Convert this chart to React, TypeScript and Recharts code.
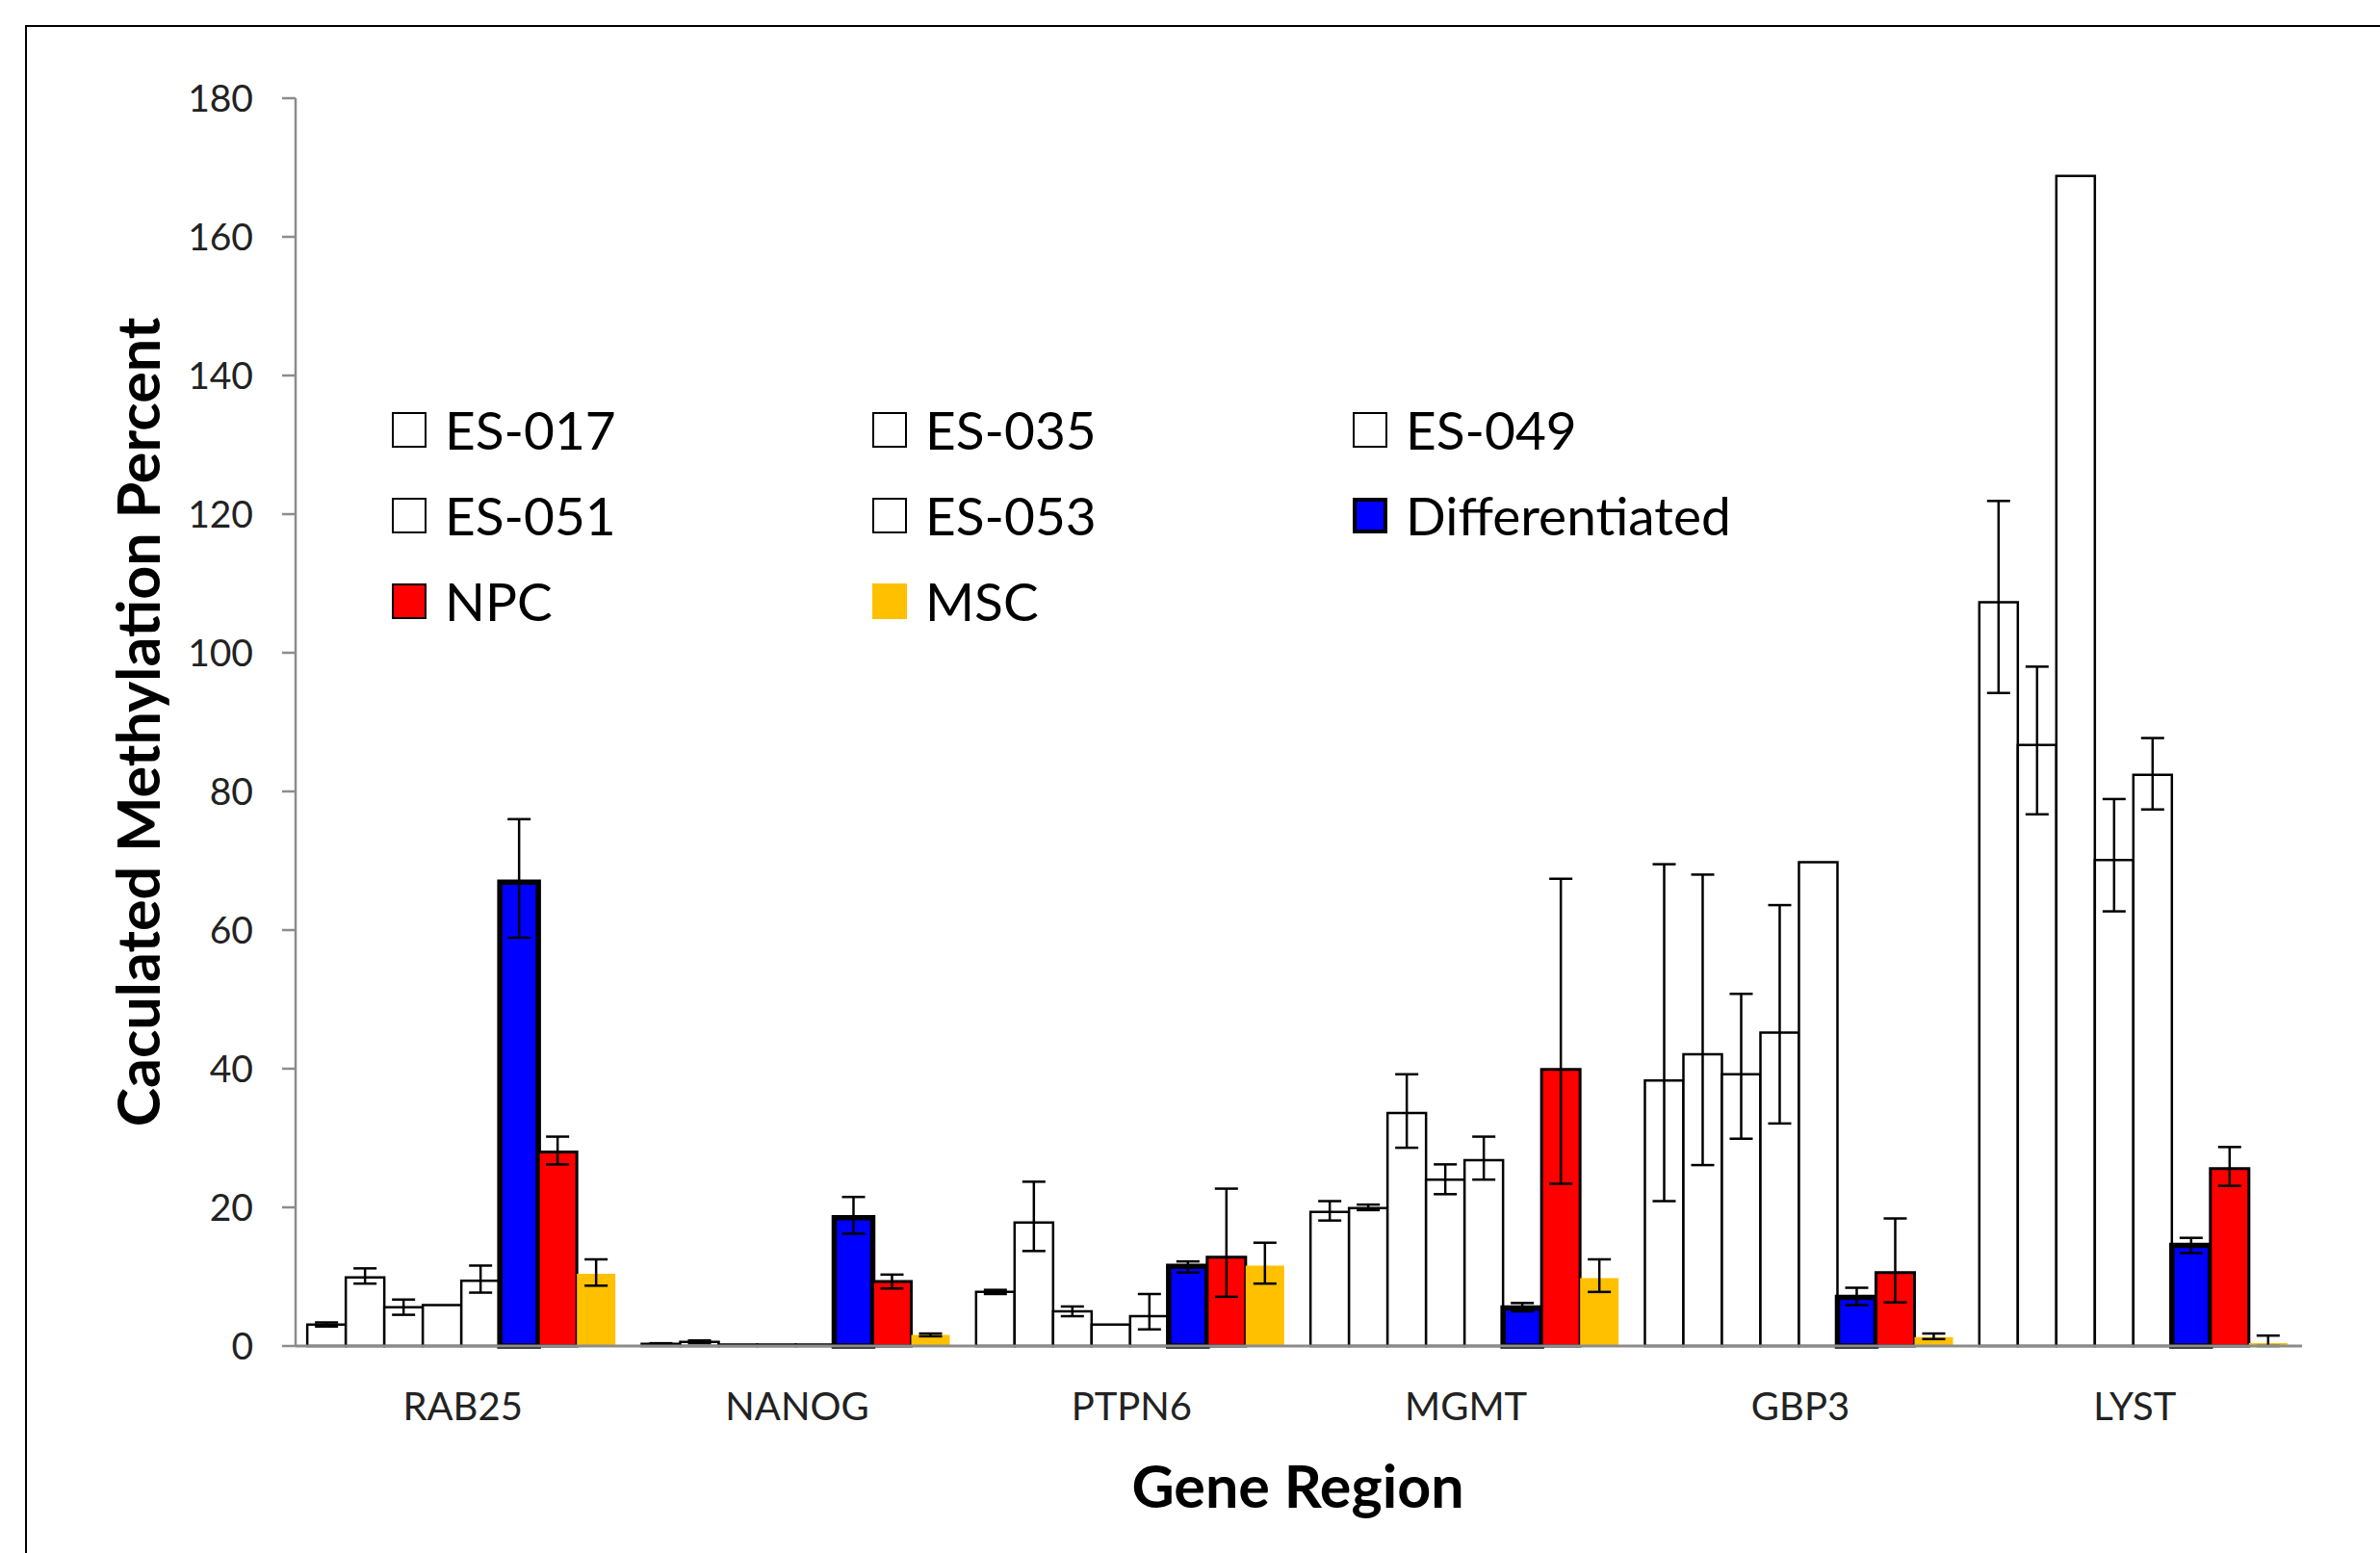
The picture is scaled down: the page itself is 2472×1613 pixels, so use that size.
import React from 'react';
import { BarChart, Bar, XAxis, YAxis, ErrorBar, Legend } from 'recharts';

const genes = ['RAB25', 'NANOG', 'PTPN6', 'MGMT', 'GBP3', 'LYST'];
const yTicks = [0, 20, 40, 60, 80, 100, 120, 140, 160, 180];

// bar heights per gene
const es017 = [3.1, 0.3, 7.8, 19.35, 38.3, 107.3];
const es035 = [9.9, 0.6, 17.8, 19.9, 42.1, 86.7];
const es049 = [5.6, 0.2, 5.0, 33.6, 39.2, 168.8];
const es051 = [5.9, 0.2, 3.1, 24.0, 45.2, 70.1];
const es053 = [9.4, 0.2, 4.3, 26.8, 69.8, 82.4];
const differentiated = [66.9, 18.5, 11.5, 5.5, 7.0, 14.5];
const npc = [28.0, 9.3, 12.8, 39.9, 10.6, 25.6];
const msc = [10.4, 1.6, 11.6, 9.8, 1.3, 0.4];

// error bars as [below, above]
const es017Err = [[0.3, 0.3], [0.1, 0.1], [0.3, 0.3], [1.25, 1.55], [17.4, 31.2], [13.1, 14.6]];
const es035Err = [[0.9, 1.3], [0.2, 0.2], [4.1, 5.9], [0.3, 0.5], [16.0, 25.9], [10.0, 11.3]];
const es049Err = [[1.1, 1.1], null, [0.7, 0.7], [5.0, 5.6], [9.3, 11.6], null];
const es051Err = [null, null, null, [2.1, 2.2], [13.1, 18.4], [7.4, 8.8]];
const es053Err = [[1.7, 2.2], null, [1.9, 3.2], [2.8, 3.4], null, [5.0, 5.3]];
const differentiatedErr = [[8.0, 9.1], [2.3, 3.0], [0.9, 0.7], [0.5, 0.7], [1.1, 1.4], [1.1, 1.1]];
const npcErr = [[1.8, 2.2], [1.0, 1.0], [5.7, 9.9], [16.5, 27.5], [4.3, 7.8], [2.5, 3.1]];
const mscErr = [[1.7, 2.1], [0.2, 0.2], [2.6, 3.3], [2.0, 2.7], [0.3, 0.5], [0.4, 1.1]];

const series = [
  { key: 'es017', name: 'ES-017', values: es017, err: es017Err, fill: '#FFFFFF', sw: 2.5 },
  { key: 'es035', name: 'ES-035', values: es035, err: es035Err, fill: '#FFFFFF', sw: 2.5 },
  { key: 'es049', name: 'ES-049', values: es049, err: es049Err, fill: '#FFFFFF', sw: 2.5 },
  { key: 'es051', name: 'ES-051', values: es051, err: es051Err, fill: '#FFFFFF', sw: 2.5 },
  { key: 'es053', name: 'ES-053', values: es053, err: es053Err, fill: '#FFFFFF', sw: 2.5 },
  { key: 'diff', name: 'Differentiated', values: differentiated, err: differentiatedErr, fill: '#0000FF', sw: 5.5 },
  { key: 'npc', name: 'NPC', values: npc, err: npcErr, fill: '#FF0000', sw: 3 },
  { key: 'msc', name: 'MSC', values: msc, err: mscErr, fill: '#FFC000', sw: 0 },
];

const data = genes.map((gene, i) => {
  const row: Record<string, any> = { gene };
  series.forEach(s => {
    row[s.key] = s.values[i];
    row[s.key + 'Err'] = s.err[i];
  });
  return row;
});

const font = 'Lato, "Open Sans", sans-serif';

const renderLegend = () => (
  <div style={{ position: 'relative', width: 1300, height: 260 }}>
    {series.map((s, i) => (
      <div
        key={s.key}
        style={{
          position: 'absolute',
          left: (i % 3) * 499,
          top: Math.floor(i / 3) * 89,
          height: 40,
          display: 'flex',
          alignItems: 'center',
          whiteSpace: 'nowrap',
        }}
      >
        <span
          style={{
            display: 'inline-block',
            boxSizing: 'border-box',
            width: 36,
            height: 37,
            background: s.fill,
            border: s.sw ? `${s.sw > 4 ? 4 : 2}px solid #000` : 'none',
            marginRight: 19,
          }}
        />
        <span style={{ fontFamily: font, fontSize: 55, color: '#000', lineHeight: 1 }}>{s.name}</span>
      </div>
    ))}
  </div>
);

const yTitle = () => (
  <text
    x={142}
    y={750}
    transform="rotate(-90 142 750)"
    textAnchor="middle"
    dominantBaseline="central"
    style={{ fontFamily: font, fontSize: 61, fontWeight: 700, fill: '#000' }}
  >
    Caculated Methylation Percent
  </text>
);

const xTitle = () => (
  <text
    x={1348}
    y={1542}
    textAnchor="middle"
    dominantBaseline="central"
    style={{ fontFamily: font, fontSize: 61, fontWeight: 700, fill: '#000' }}
  >
    Gene Region
  </text>
);

export default function App() {
  return (
    <div style={{ position: 'absolute', left: 0, top: 0, width: 2472, height: 1613, background: '#fff', overflow: 'hidden' }}>
      <div
        style={{
          position: 'absolute',
          left: 26,
          top: 26,
          width: 2500,
          height: 1650,
          borderLeft: '2px solid #000',
          borderTop: '2px solid #000',
        }}
      />
      <BarChart
        width={2472}
        height={1613}
        data={data}
        margin={{ top: 102, right: 81, bottom: 0, left: 0 }}
        barCategoryGap="3.5%"
        barGap={0}
        style={{ position: 'absolute', left: 0, top: 0 }}
      >
        <XAxis
          dataKey="gene"
          height={215}
          tickLine={false}
          tickMargin={43}
          axisLine={{ stroke: '#8c8c8c', strokeWidth: 3 }}
          tick={{ fontFamily: font, fontSize: 40, fill: '#222' }}
          label={{ content: xTitle }}
        />
        <YAxis
          width={307}
          domain={[0, 180]}
          ticks={yTicks}
          interval={0}
          tickSize={14}
          tickMargin={30}
          axisLine={{ stroke: '#8c8c8c', strokeWidth: 2.5 }}
          tickLine={{ stroke: '#8c8c8c', strokeWidth: 2.5 }}
          tick={{ fontFamily: font, fontSize: 39, fill: '#222' }}
          label={{ content: yTitle }}
        />
        <Legend
          layout="horizontal"
          align="center"
          verticalAlign="middle"
          content={renderLegend}
          wrapperStyle={{ left: 407, top: 426, width: 1300, height: 260 }}
        />
        {series.map(s => (
          <Bar
            key={s.key}
            dataKey={s.key}
            name={s.name}
            fill={s.fill}
            stroke={s.sw ? '#000' : 'none'}
            strokeWidth={s.sw}
            isAnimationActive={false}
          >
            <ErrorBar dataKey={s.key + 'Err'} direction="y" width={12} stroke="#000" strokeWidth={2.5} />
          </Bar>
        ))}
      </BarChart>
    </div>
  );
}
